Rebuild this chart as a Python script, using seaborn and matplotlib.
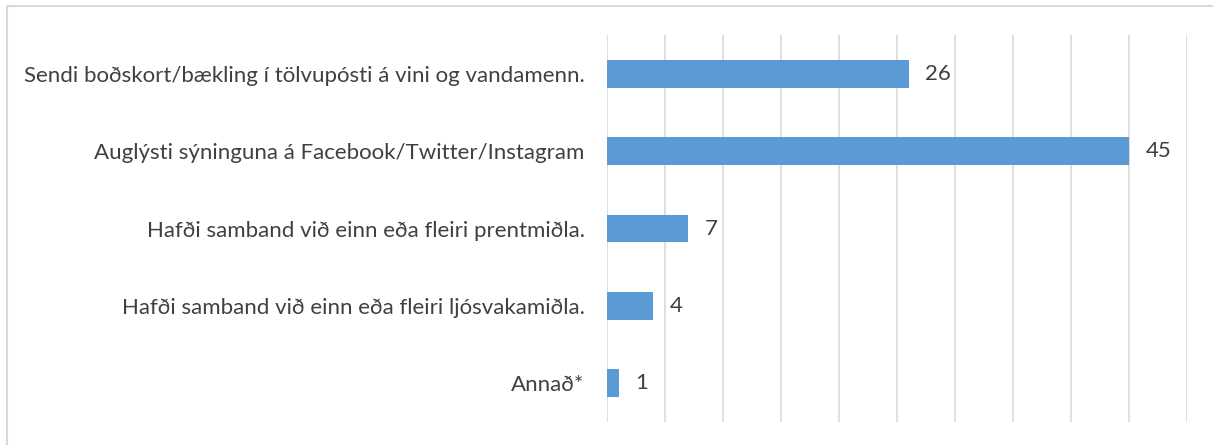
import matplotlib
matplotlib.use("Agg")
import matplotlib.pyplot as plt
import seaborn as sns
import pandas as pd
from matplotlib.lines import Line2D

# --- Data ---
categories = [
    "Sendi boðskort/bækling í tölvupósti á vini og vandamenn.",
    "Auglýsti sýninguna á Facebook/Twitter/Instagram",
    "Hafði samband við einn eða fleiri prentmiðla.",
    "Hafði samband við einn eða fleiri ljósvakamiðla.",
    "Annað*",
]
counts = [26, 45, 7, 4, 1]

df = pd.DataFrame({"Flokkur": categories, "Fjöldi": counts})

sns.set_theme(style="white")
plt.rcParams['font.family'] = ['Lato', 'DejaVu Sans']

text_color = "#404040"
bar_color = "#5B9BD5"
grid_color = "#D9D9D9"

fig = plt.figure(figsize=(12.13, 4.45), dpi=100)
ax = fig.add_axes([0.5004, 0.0517, 0.4782, 0.8696])

sns.barplot(data=df, x="Fjöldi", y="Flokkur", color=bar_color, width=0.36,
            saturation=1, linewidth=0, ax=ax, zorder=3)

ax.set_xlim(0, 50)
ax.set_xticks(range(0, 51, 5))
ax.set_xticklabels([])
ax.tick_params(axis="both", length=0)
ax.xaxis.grid(True, color=grid_color, linewidth=1.2, zorder=0)
ax.set_axisbelow(True)
for s in ax.spines.values():
    s.set_visible(False)
ax.set_xlabel("")
ax.set_ylabel("")
ax.tick_params(axis="y", labelsize=16, labelcolor=text_color, pad=16)

for i, v in enumerate(counts):
    ax.text(v + 1.4, i, str(v), va="center", ha="left", fontsize=16, color=text_color)

# chart border (only top and left visible in the crop)
fig.lines.append(Line2D([6.5 / 1213, 6.5 / 1213, 1], [0, 1 - 6 / 445, 1 - 6 / 445],
                        transform=fig.transFigure, color=grid_color, linewidth=1.5))

plt.savefig("out.png", dpi=100)
